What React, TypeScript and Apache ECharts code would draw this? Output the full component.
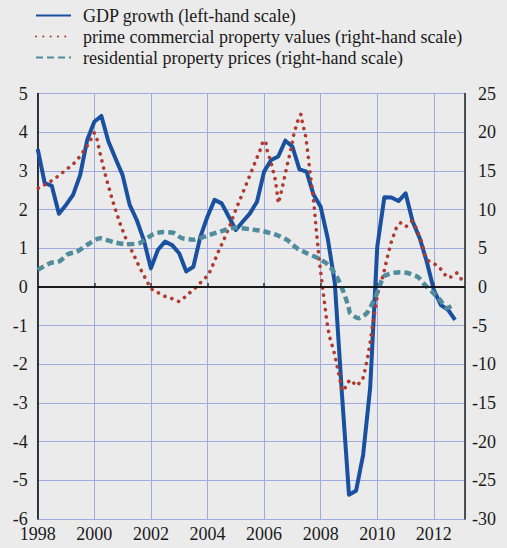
import React, { useEffect, useRef } from "react";
import * as echarts from "echarts";

// GDP growth, quarterly from 1998 Q1 (left-hand scale, %)
const gdpStartYear = 1998;
const gdpGrowth = [
  3.56, 2.68, 2.61, 1.89, 2.12, 2.38, 2.89, 3.8, 4.27, 4.42,
  3.76, 3.32, 2.89, 2.12, 1.73, 1.21, 0.48, 0.96, 1.17, 1.08,
  0.87, 0.4, 0.52, 1.3, 1.82, 2.25, 2.16, 1.82, 1.47, 1.69,
  1.9, 2.2, 2.98, 3.28, 3.37, 3.78, 3.63, 3.04, 2.98, 2.38,
  2.07, 1.25, 0.1, -2.75, -5.37, -5.27, -4.34, -2.6, 1.04, 2.32,
  2.31, 2.22, 2.42, 1.69, 1.26, 0.65, -0.08, -0.47, -0.59, -0.85,
];

// prime commercial property values (right-hand scale, %)
const commercialYears = [
  1998.02, 1998.28, 1998.53, 1998.75, 1998.98, 1999.2, 1999.4, 1999.57, 1999.73, 1999.87,
  2000.0, 2000.09, 2000.2, 2000.41, 2000.64, 2000.91, 2001.11, 2001.36, 2001.59, 2001.85,
  2001.99, 2002.23, 2002.48, 2002.74, 2002.99, 2003.21, 2003.42, 2003.62, 2003.82, 2004.03,
  2004.15, 2004.36, 2004.59, 2004.81, 2005.0, 2005.23, 2005.44, 2005.66, 2005.86, 2005.95,
  2006.06, 2006.09, 2006.25, 2006.4, 2006.47, 2006.5, 2006.58, 2006.7, 2006.82, 2006.95,
  2007.06, 2007.21, 2007.3, 2007.35, 2007.48, 2007.55, 2007.61, 2007.69, 2007.78, 2007.86,
  2007.94, 2008.04, 2008.14, 2008.22, 2008.31, 2008.47, 2008.59, 2008.7, 2008.75, 2008.84,
  2008.93, 2009.07, 2009.25, 2009.47, 2009.54, 2009.66, 2009.75, 2009.83, 2009.92, 2010.0,
  2010.06, 2010.16, 2010.24, 2010.37, 2010.51, 2010.69, 2010.83, 2011.02, 2011.22, 2011.34,
  2011.54, 2011.69, 2011.83, 2012.08, 2012.3, 2012.46, 2012.64, 2012.81, 2012.99,
];
const commercialValues = [
  12.75, 13.27, 13.8, 14.4, 15.1, 15.7, 16.4, 17.3, 18.1, 19.0,
  19.9, 19.2, 17.3, 14.2, 11.2, 8.2, 6.3, 4.4, 2.6, 0.8,
  -0.2, -0.7, -1.2, -1.5, -1.9, -1.3, -0.6, 0.05, 0.8, 1.55,
  2.5, 4.35, 6.2, 8.1, 10.0, 12.0, 13.9, 15.9, 17.7, 18.7,
  18.9, 17.9, 16.0, 13.8, 11.9, 10.8, 11.8, 13.8, 15.8, 17.8,
  19.9, 21.7, 22.3, 21.3, 19.3, 17.2, 15.2, 13.0, 10.0, 6.8,
  3.8, 0.7, -2.2, -4.5, -6.4, -8.4, -10.4, -12.4, -13.4, -13.3,
  -12.4, -12.0, -12.8, -12.1, -11.2, -9.1, -7.1, -5.0, -3.1, -1.2,
  -0.2, 0.9, 2.0, 4.05, 6.0, 7.8, 8.3, 7.8, 8.5, 7.9,
  6.1, 4.05, 3.3, 2.85, 2.1, 1.2, 1.3, 1.8, 0.9,
];

// residential property prices (right-hand scale, %)
const residentialYears = [
  1998.0, 1998.43, 1998.79, 1999.08, 1999.38, 1999.73, 2000.2, 2000.67, 2001.15, 2001.62,
  2002.09, 2002.44, 2002.79, 2003.09, 2003.5, 2003.97, 2004.44, 2004.97, 2005.5, 2005.97,
  2006.45, 2006.8, 2007.16, 2007.51, 2007.92, 2008.27, 2008.57, 2008.8, 2008.98, 2009.04,
  2009.33, 2009.63, 2009.86, 2010.04, 2010.22, 2010.51, 2010.81, 2011.1, 2011.45, 2011.68,
  2011.93, 2012.22, 2012.46, 2012.75,
];
const residentialValues = [
  2.2, 3.06, 3.36, 4.26, 4.56, 5.4, 6.3, 5.8, 5.5, 5.7,
  6.85, 7.1, 7.0, 6.3, 6.1, 6.6, 7.15, 7.65, 7.45, 7.2,
  6.7, 6.1, 5.0, 4.35, 3.7, 2.84, 1.33, -0.6, -2.5, -3.4,
  -4.05, -3.4, -1.9, -0.4, 1.33, 1.77, 1.9, 1.77, 1.25, 0.26,
  -0.6, -1.7, -2.75, -2.2,
];

const seriesNames = [
  "GDP growth (left-hand scale)",
  "prime commercial property values (right-hand scale)",
  "residential property prices (right-hand scale)",
];

const FONT = "Liberation Serif";
const TEXT = "#1a1a1a";
const GRID = "#9eaae0";
const FS = 18;

export default function App() {
  const ref = useRef<HTMLDivElement>(null);
  useEffect(() => {
    document.body.style.margin = "0";
    const css = document.createElement("style");
    css.textContent = "svg text { font-family: 'Liberation Serif', serif !important; }";
    document.head.appendChild(css);
    const chart = echarts.init(ref.current!, null, { renderer: "svg" });
    const gdpData = gdpGrowth.map((v, i) => [gdpStartYear + i / 4, v]);
    const comData = commercialYears.map((y, i) => [y, commercialValues[i]]);
    const resData = residentialYears.map((y, i) => [y, residentialValues[i]]);
    chart.setOption({
      animation: false,
      textStyle: { fontFamily: FONT, fontSize: FS },
      legend: {
        orient: "vertical",
        left: 35,
        top: 6,
        padding: 0,
        itemWidth: 35,
        itemHeight: 14,
        itemGap: 2,
        itemStyle: { opacity: 0 },
        textStyle: {
          fontFamily: FONT,
          fontSize: FS,
          color: TEXT,
          lineHeight: 19,
          padding: [0, 0, 0, 7],
        },
        data: seriesNames,
      },
      grid: { left: 37.7, right: 42, top: 93.5, bottom: 29, containLabel: false },
      xAxis: {
        type: "value",
        min: 1998,
        max: 2013.1,
        interval: 2,
        axisLine: { show: true, lineStyle: { color: "#555", width: 1.5 } },
        axisTick: { show: true, inside: true, length: 4, lineStyle: { color: "#333", width: 1.5 } },
        axisLabel: {
          fontFamily: FONT,
          fontSize: FS,
          color: TEXT,
          margin: 6,
          showMaxLabel: false,
          formatter: (v: number) => (Math.abs(v % 2) < 1e-6 ? String(v) : ""),
        },
        splitLine: { show: true, lineStyle: { color: GRID, width: 1 } },
      },
      yAxis: [
        {
          type: "value",
          min: -6,
          max: 5,
          interval: 1,
          position: "left",
          axisLine: { show: true, lineStyle: { color: "#000", width: 1.5 } },
          axisTick: { show: false },
          axisLabel: { fontFamily: FONT, fontSize: FS, color: TEXT, margin: 10 },
          splitLine: { show: true, lineStyle: { color: GRID, width: 1 } },
        },
        {
          type: "value",
          min: -30,
          max: 25,
          interval: 5,
          position: "right",
          axisLine: { show: true, lineStyle: { color: "#222", width: 1.5 } },
          axisTick: { show: false },
          axisLabel: {
            fontFamily: FONT,
            fontSize: FS,
            color: TEXT,
            margin: 7,
            align: "left",
            formatter: (v: number) => (v < 0 ? String(v) : "{p|" + v + "}"),
            rich: { p: { padding: [0, 0, 0, 6], fontFamily: FONT, fontSize: FS, color: TEXT } },
          },
          splitLine: { show: false },
        },
      ],
      series: [
        {
          name: seriesNames[0],
          type: "line",
          yAxisIndex: 0,
          data: gdpData,
          symbol: "none",
          lineStyle: { color: "#1a50a0", width: 4, join: "round" },
          itemStyle: { color: "#1a50a0" },
          markLine: {
            silent: true,
            symbol: ["none", "none"],
            label: { show: false },
            lineStyle: { color: "#000", width: 1.5, type: "solid" },
            data: [{ yAxis: 0 }],
          },
          z: 2,
        },
        {
          name: seriesNames[1],
          type: "line",
          yAxisIndex: 1,
          data: comData,
          symbol: "none",
          lineStyle: { color: "#b13a2f", width: 3.6, type: [0.1, 7.2], cap: "round" },
          itemStyle: { color: "#b13a2f" },
          z: 3,
        },
        {
          name: seriesNames[2],
          type: "line",
          yAxisIndex: 1,
          data: resData,
          symbol: "none",
          smooth: 0.2,
          lineStyle: { color: "#508c9b", width: 4.5, type: [7, 4] },
          itemStyle: { color: "#508c9b" },
          z: 4,
        },
      ],
    });
    return () => {
      chart.dispose();
      css.remove();
    };
  }, []);
  return <div ref={ref} style={{ width: 507, height: 548, background: "#ebebeb" }} />;
}
